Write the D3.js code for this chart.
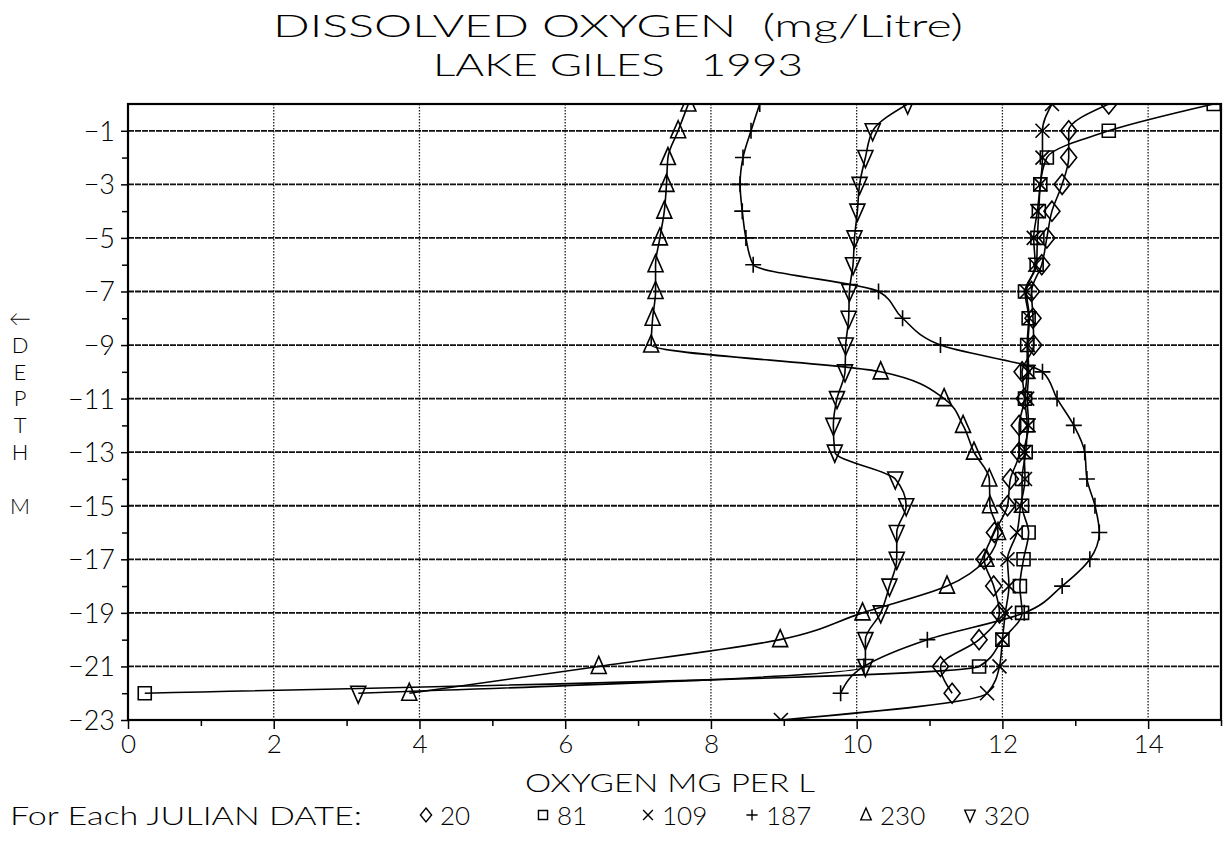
<!DOCTYPE html>
<html><head><meta charset="utf-8">
<script src="https://cdn.jsdelivr.net/npm/d3@7"></script>
<style>
body{margin:0;background:#fff;}
text{font-family:Lato,Roboto,"DejaVu Sans",sans-serif;font-weight:300;fill:#000;white-space:pre;}
</style></head>
<body><svg id="c" width="1226" height="841"></svg>
<script>
// ---- data ----
const depths = [0,-1,-2,-3,-4,-5,-6,-7,-8,-9,-10,-11,-12,-13,-14,-15,-16,-17,-18,-19,-20,-21,-22,-23];
const julianDates = ["20","81","109","187","230","320"];
const day20  = [13.46,12.91,12.91,12.82,12.68,12.61,12.54,12.40,12.42,12.43,12.27,12.30,12.23,12.23,12.11,12.07,11.89,11.75,11.88,11.96,11.68,11.15,11.31];
const day81  = [14.90,13.46,12.61,12.52,12.50,12.48,12.47,12.31,12.36,12.34,12.34,12.31,12.34,12.32,12.27,12.27,12.36,12.29,12.24,12.27,12.00,11.68,0.23];
const day109 = [12.68,12.55,12.55,12.52,12.48,12.43,12.45,12.33,12.37,12.35,12.36,12.34,12.36,12.30,12.31,12.25,12.20,12.07,12.09,12.04,12.00,11.96,11.79,8.96];
const day187 = [8.67,8.55,8.44,8.40,8.43,8.48,8.58,10.30,10.63,11.15,12.55,12.75,12.98,13.13,13.16,13.27,13.33,13.20,12.82,12.30,10.97,10.10,9.78];
const day230 = [7.69,7.55,7.41,7.39,7.36,7.30,7.24,7.24,7.20,7.18,10.33,11.20,11.46,11.61,11.82,11.83,11.94,11.78,11.24,10.08,8.95,6.46,3.86];
const day320 = [10.70,10.22,10.12,10.04,10.01,9.97,9.95,9.90,9.89,9.85,9.84,9.73,9.68,9.70,10.53,10.68,10.55,10.55,10.45,10.33,10.12,10.12,3.16];
const xTicks = [0,2,4,6,8,10,12,14];
const xMinor = [1,3,5,7,9,11,13,15];
const yTicks = [-1,-3,-5,-7,-9,-11,-13,-15,-17,-19,-21,-23];
const yMinor = [-2,-4,-6,-8,-10,-12,-14,-16,-18,-20,-22];
const series = [
  {name:"20", vals:day20, sym:"diamond"},
  {name:"81", vals:day81, sym:"square"},
  {name:"109", vals:day109, sym:"x"},
  {name:"187", vals:day187, sym:"plus"},
  {name:"230", vals:day230, sym:"tri"},
  {name:"320", vals:day320, sym:"itri"}
];

const svg = d3.select("#c");
const L=128,R=1221,T=104,B=720;
const x = d3.scaleLinear().domain([0,15]).range([L,R]);
const y = d3.scaleLinear().domain([-23,0]).range([B,T]);

function symPath(s, k){
  k = k||1;
  switch(s){
    case "diamond": return `M0,${-10*k}L${8*k},0L0,${10*k}L${-8*k},0Z`;
    case "square": return `M${-6.5*k},${-6.5*k}h${13*k}v${13*k}h${-13*k}Z`;
    case "x": return `M${-7*k},${-7*k}L${7*k},${7*k}M${7*k},${-7*k}L${-7*k},${7*k}`;
    case "plus": return `M${-8*k},0H${8*k}M0,${-8*k}V${8*k}`;
    case "tri": return `M0,${-10*k}L${7.5*k},${7*k}L${-7.5*k},${7*k}Z`;
    case "itri": return `M0,${10*k}L${7.5*k},${-7*k}L${-7.5*k},${-7*k}Z`;
  }
}

// grid
svg.append("g").selectAll("line").data(xTicks.filter(v=>v>0)).join("line")
  .attr("x1",d=>x(d)).attr("x2",d=>x(d)).attr("y1",T).attr("y2",B)
  .attr("stroke","#222").attr("stroke-width",1.3).attr("stroke-dasharray","1.5,1.5");
svg.append("g").selectAll("line").data(yTicks.filter(v=>v>-23)).join("line")
  .attr("x1",L).attr("x2",R).attr("y1",d=>y(d)).attr("y2",d=>y(d))
  .attr("stroke","#111").attr("stroke-width",1.8).attr("stroke-dasharray","6,1");

// axes
const ax = svg.append("g").attr("transform",`translate(0,${B})`)
  .call(d3.axisBottom(x).tickValues(xTicks).tickSize(9).tickPadding(6).tickFormat(d3.format("d")));
const axm = svg.append("g").attr("transform",`translate(0,${B})`)
  .call(d3.axisBottom(x).tickValues(xMinor).tickSize(6).tickFormat(""));
const ay = svg.append("g").attr("transform",`translate(${L},0)`)
  .call(d3.axisLeft(y).tickValues(yTicks).tickSize(7).tickPadding(6).tickFormat(d3.format("d")));
const aym = svg.append("g").attr("transform",`translate(${L},0)`)
  .call(d3.axisLeft(y).tickValues(yMinor).tickSize(6).tickFormat(""));
[ax,axm,ay,aym].forEach(g=>{g.select(".domain").remove();g.selectAll("line").attr("stroke","#000").attr("stroke-width",1.5);});
ax.selectAll("text").attr("font-size",26).attr("font-family","Lato,Roboto,sans-serif").attr("font-weight",300).attr("fill","#000");
ay.selectAll("text").attr("font-size",27).attr("font-family","Lato,Roboto,sans-serif").attr("font-weight",300).attr("fill","#000").attr("dy","0.35em");

// frame
svg.append("rect").attr("x",L).attr("y",T).attr("width",R-L).attr("height",B-T)
  .attr("fill","none").attr("stroke","#000").attr("stroke-width",2.2);

// clip
svg.append("clipPath").attr("id","clp").append("rect").attr("x",L).attr("y",T).attr("width",R-L).attr("height",B-T);
const plot = svg.append("g").attr("clip-path","url(#clp)");
const line = d3.line().x(d=>x(d[0])).y(d=>y(d[1])).curve(d3.curveMonotoneY);
series.forEach(s=>{
  const pts = s.vals.map((v,i)=>[v,depths[i]]);
  plot.append("path").datum(pts).attr("d",line).attr("fill","none").attr("stroke","#000").attr("stroke-width",1.6);
  plot.append("g").selectAll("path").data(pts).join("path")
    .attr("transform",d=>`translate(${x(d[0])},${y(d[1])})`)
    .attr("d",symPath(s.sym)).attr("fill","none").attr("stroke","#000").attr("stroke-width",1.6);
});

// titles
svg.append("text").attr("x",618).attr("y",37).attr("text-anchor","middle").attr("font-size",31)
  .attr("textLength",690).attr("lengthAdjust","spacingAndGlyphs").text("DISSOLVED OXYGEN  (mg/Litre)");
svg.append("text").attr("x",618).attr("y",76).attr("text-anchor","middle").attr("font-size",31)
  .attr("textLength",370).attr("lengthAdjust","spacingAndGlyphs").text("LAKE GILES   1993");
svg.append("text").attr("x",670).attr("y",792).attr("text-anchor","middle").attr("font-size",25)
  .attr("textLength",290).attr("lengthAdjust","spacingAndGlyphs").text("OXYGEN MG PER L");

// y label stacked
const ylab = ["←","D","E","P","T","H","","M"];
svg.append("g").selectAll("text").data(ylab).join("text")
  .attr("x",20).attr("y",(d,i)=>326+i*26.8).attr("text-anchor","middle").attr("font-size",22).text(d=>d);

// legend
svg.append("text").attr("x",10).attr("y",825).attr("font-size",26)
  .attr("textLength",352).attr("lengthAdjust","spacingAndGlyphs").text("For Each JULIAN DATE:");
const legX = [426,543,648,752,866,970];
const lg = svg.append("g").selectAll("g").data(series).join("g")
  .attr("transform",(d,i)=>`translate(${legX[i]},815)`);
lg.append("path").attr("d",d=>symPath(d.sym,0.7)).attr("fill","none").attr("stroke","#000").attr("stroke-width",1.4);
lg.append("text").attr("x",14).attr("y",10).attr("font-size",26).text((d,i)=>julianDates[i]);
</script></body></html>
